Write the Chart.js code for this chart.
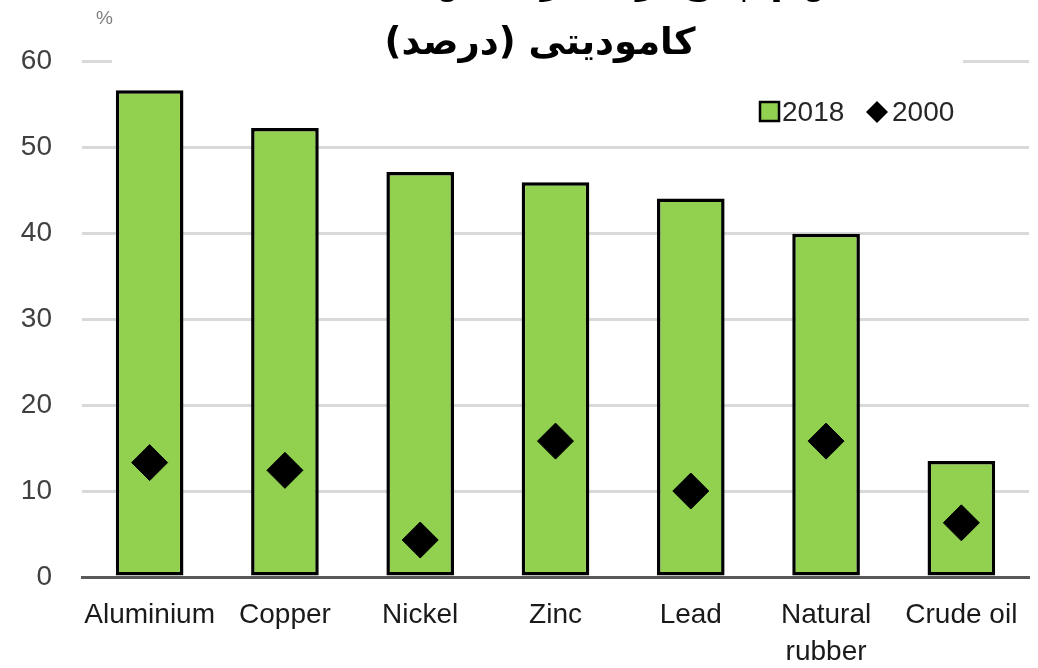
<!DOCTYPE html>
<html>
<head>
<meta charset="utf-8">
<script src="https://cdn.jsdelivr.net/npm/chart.js@4/dist/chart.umd.min.js"></script>
<style>
  html, body { margin: 0; padding: 0; background: #fff; overflow: hidden; }
  #wrap { width: 1048px; height: 668px; }
</style>
</head>
<body>
<div id="wrap"><canvas id="chart" width="1048" height="668"></canvas></div>
<script>
/* =========================================================
   DATA
========================================================= */
const categories = ["Aluminium", "Copper", "Nickel", "Zinc", "Lead", ["Natural", "rubber"], "Crude oil"];
const share2018 = [56.6, 52.2, 47.1, 45.9, 44.0, 39.9, 13.5];
const share2000 = [13.3, 12.4, 4.3, 15.8, 10.0, 15.8, 6.3];
const yTicks = [0, 10, 20, 30, 40, 50, 60];

const titleLines = ["سهم چین از مصرف جهانی کالاهای", "کامودیتی (درصد)"];
const unitLabel = "%";

const labelFont = "'Liberation Sans', Arial, sans-serif";
const green = "#92D050";

/* =========================================================
   TITLE, UNIT AND LEGEND (drawn on top of the chart)
========================================================= */
const overlayPlugin = {
    id: "overlay",
    afterDraw(chart) {
        const ctx = chart.ctx;
        ctx.save();

        // white band behind the title hides the top gridline
        ctx.fillStyle = "#fff";
        ctx.fillRect(112, 0, 851, 72);

        // title (first line cut off at the top, as in the original)
        ctx.fillStyle = "#000";
        ctx.textAlign = "center";
        ctx.textBaseline = "alphabetic";
        ctx.direction = "rtl";
        ctx.font = "bold 37px 'DejaVu Sans', sans-serif";
        ctx.fillText(titleLines[0], 540, -7);
        ctx.fillText(titleLines[1], 540, 54);
        ctx.direction = "ltr";

        // unit
        ctx.fillStyle = "#7f7f7f";
        ctx.textAlign = "left";
        ctx.textBaseline = "middle";
        ctx.font = "19px " + labelFont;
        ctx.fillText(unitLabel, 96, 19);

        // legend
        const ds = chart.data.datasets;
        ctx.font = "28px " + labelFont;
        ctx.fillStyle = ds[0].backgroundColor;
        ctx.fillRect(760, 102, 19, 19);
        ctx.strokeStyle = "#000";
        ctx.lineWidth = 2.5;
        ctx.strokeRect(760, 102, 19, 19);
        ctx.fillStyle = "#262626";
        ctx.fillText(ds[0].label, 782, 113);

        ctx.fillStyle = ds[1].backgroundColor;
        ctx.beginPath();
        ctx.moveTo(877, 101);
        ctx.lineTo(888, 112);
        ctx.lineTo(877, 123);
        ctx.lineTo(866, 112);
        ctx.closePath();
        ctx.fill();
        ctx.fillStyle = "#262626";
        ctx.fillText(ds[1].label, 892, 113);

        ctx.restore();
    }
};

/* =========================================================
   CHART
========================================================= */
const canvas = document.getElementById("chart");

new Chart(canvas, {
    type: "bar",
    data: {
        labels: categories,
        datasets: [{
            label: "2018",
            data: share2018,
            backgroundColor: green,
            borderColor: "#000",
            borderWidth: 3.5,
            borderSkipped: false,
            barPercentage: 1,
            categoryPercentage: 0.5,
            order: 2
        }, {
            type: "line",
            label: "2000",
            data: share2000,
            showLine: false,
            pointStyle: "rectRot",
            pointRadius: 18,
            pointHoverRadius: 18,
            backgroundColor: "#000",
            borderColor: "#000",
            borderWidth: 1,
            order: 1
        }]
    },
    options: {
        responsive: false,
        animation: false,
        layout: { padding: { top: 61, right: 2, left: 0, bottom: 0 } },
        plugins: {
            legend: { display: false },
            title: { display: false },
            tooltip: { enabled: false }
        },
        scales: {
            x: {
                grid: { display: false, drawTicks: false },
                border: { display: true, color: "#595959", width: 3 },
                ticks: {
                    color: "#1a1a1a",
                    font: { family: labelFont, size: 28, lineHeight: 1.35 },
                    padding: 19,
                    maxRotation: 0,
                    autoSkip: false
                },
                afterFit: scale => { scale.height = 91; }
            },
            y: {
                min: 0,
                max: 60,
                afterBuildTicks: scale => { scale.ticks = yTicks.map(v => ({ value: v })); },
                grid: { color: "#d9d9d9", lineWidth: 3, drawTicks: false },
                border: { display: false },
                ticks: {
                    color: "#404040",
                    font: { family: labelFont, size: 28 },
                    padding: 30
                },
                afterFit: scale => { scale.width = 82; }
            }
        }
    },
    plugins: [overlayPlugin]
});
</script>
</body>
</html>
